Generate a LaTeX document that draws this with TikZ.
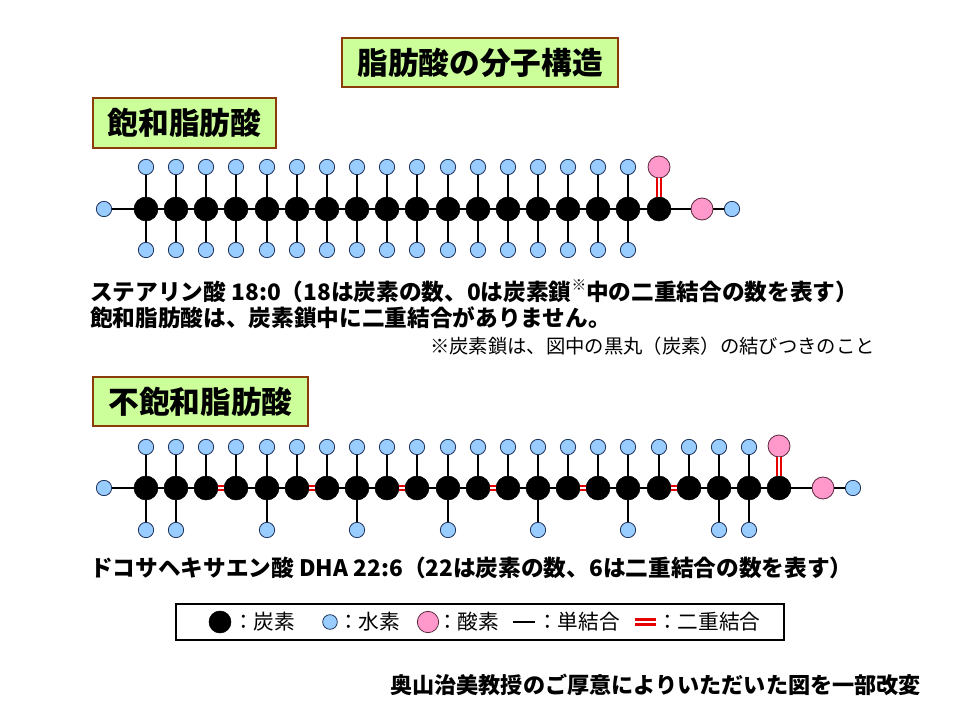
\documentclass[tikz,border=0pt]{standalone}
\usepackage{fontspec}
\setmainfont{Noto Sans CJK JP}
\usepackage{tikz}
\usetikzlibrary{calc}

\definecolor{boxgreen}{RGB}{204,255,153}
\definecolor{boxbrown}{RGB}{140,60,10}
\definecolor{hblue}{RGB}{153,204,255}
\definecolor{hedge}{RGB}{30,50,90}
\definecolor{opink}{RGB}{255,153,204}
\definecolor{oedge}{RGB}{90,40,60}
\definecolor{bondred}{RGB}{230,0,0}

\begin{document}
\begin{tikzpicture}[x=0.75pt,y=-0.75pt,
	carbon/.style={circle,fill=black,draw=black,inner sep=0pt,minimum size=18pt},
	hyd/.style={circle,fill=hblue,draw=hedge,line width=0.6pt,inner sep=0pt,minimum size=11.5pt},
	oxy/.style={circle,fill=opink,draw=oedge,line width=0.6pt,inner sep=0pt,minimum size=16.5pt},
	bond/.style={line width=1.9pt},
	dbond/.style={draw=bondred,double=white,line width=1.3pt,double distance=2pt},
	titlebox/.style={fill=boxgreen,draw=boxbrown,line width=1.6pt,inner sep=0pt,font=\fontsize{23}{23}\selectfont\bfseries},
	txt/.style={anchor=west,inner sep=0pt,font=\fontsize{17}{17}\selectfont\bfseries},
	leg/.style={anchor=west,inner sep=0pt,font=\fontsize{15.5}{15.5}\selectfont}]
		\useasboundingbox (0,0) rectangle (960,720);

		\node[titlebox,minimum width=207pt,minimum height=36.75pt] (title) at (480,62.5) {脂肪酸の分子構造};
		\node[titlebox,minimum width=137.25pt,minimum height=37.5pt] (satlabel) at (184.5,123) {飽和脂肪酸};
		\node[titlebox,minimum width=161.25pt,minimum height=36.75pt] (unsatlabel) at (200.5,401.5) {不飽和脂肪酸};

		% 飽和脂肪酸
		\node[hyd] (s0) at (104,209) {};
		\node[carbon] (s1) at (146,209) {}; \node[hyd] (s1t) at (146,167) {}; \node[hyd] (s1b) at (146,250) {};
		\node[carbon] (s2) at (176,209) {}; \node[hyd] (s2t) at (176,167) {}; \node[hyd] (s2b) at (176,250) {};
		\node[carbon] (s3) at (206,209) {}; \node[hyd] (s3t) at (206,167) {}; \node[hyd] (s3b) at (206,250) {};
		\node[carbon] (s4) at (236,209) {}; \node[hyd] (s4t) at (236,167) {}; \node[hyd] (s4b) at (236,250) {};
		\node[carbon] (s5) at (267,209) {}; \node[hyd] (s5t) at (267,167) {}; \node[hyd] (s5b) at (267,250) {};
		\node[carbon] (s6) at (297,209) {}; \node[hyd] (s6t) at (297,167) {}; \node[hyd] (s6b) at (297,250) {};
		\node[carbon] (s7) at (327,209) {}; \node[hyd] (s7t) at (327,167) {}; \node[hyd] (s7b) at (327,250) {};
		\node[carbon] (s8) at (357,209) {}; \node[hyd] (s8t) at (357,167) {}; \node[hyd] (s8b) at (357,250) {};
		\node[carbon] (s9) at (387,209) {}; \node[hyd] (s9t) at (387,167) {}; \node[hyd] (s9b) at (387,250) {};
		\node[carbon] (s10) at (417,209) {}; \node[hyd] (s10t) at (417,167) {}; \node[hyd] (s10b) at (417,250) {};
		\node[carbon] (s11) at (448,209) {}; \node[hyd] (s11t) at (448,167) {}; \node[hyd] (s11b) at (448,250) {};
		\node[carbon] (s12) at (478,209) {}; \node[hyd] (s12t) at (478,167) {}; \node[hyd] (s12b) at (478,250) {};
		\node[carbon] (s13) at (508,209) {}; \node[hyd] (s13t) at (508,167) {}; \node[hyd] (s13b) at (508,250) {};
		\node[carbon] (s14) at (538,209) {}; \node[hyd] (s14t) at (538,167) {}; \node[hyd] (s14b) at (538,250) {};
		\node[carbon] (s15) at (568,209) {}; \node[hyd] (s15t) at (568,167) {}; \node[hyd] (s15b) at (568,250) {};
		\node[carbon] (s16) at (598,209) {}; \node[hyd] (s16t) at (598,167) {}; \node[hyd] (s16b) at (598,250) {};
		\node[carbon] (s17) at (628,209) {}; \node[hyd] (s17t) at (628,167) {}; \node[hyd] (s17b) at (628,250) {};
		\node[carbon] (s18) at (659,209) {}; \node[oxy] (so1) at (659,167) {};
		\node[oxy] (so2) at (702,209) {}; \node[hyd] (sh) at (732,209) {};

		\draw[bond] (s0) -- (s1) -- (s2) -- (s3) -- (s4) -- (s5) -- (s6) -- (s7) -- (s8) -- (s9) -- (s10)
			-- (s11) -- (s12) -- (s13) -- (s14) -- (s15) -- (s16) -- (s17) -- (s18) -- (so2) -- (sh);
		\draw[bond] (s1t) -- (s1) -- (s1b) (s2t) -- (s2) -- (s2b) (s3t) -- (s3) -- (s3b) (s4t) -- (s4) -- (s4b)
			(s5t) -- (s5) -- (s5b) (s6t) -- (s6) -- (s6b) (s7t) -- (s7) -- (s7b) (s8t) -- (s8) -- (s8b)
			(s9t) -- (s9) -- (s9b) (s10t) -- (s10) -- (s10b) (s11t) -- (s11) -- (s11b) (s12t) -- (s12) -- (s12b)
			(s13t) -- (s13) -- (s13b) (s14t) -- (s14) -- (s14b) (s15t) -- (s15) -- (s15b) (s16t) -- (s16) -- (s16b)
			(s17t) -- (s17) -- (s17b);
		\draw[dbond] (s18) -- (so1);

		\node[txt] (sattext) at (90,291) {ステアリン酸 18:0（18は炭素の数、0は炭素鎖\raisebox{0.45em}{\fontsize{11}{11}\selectfont\mdseries ※}中の二重結合の数を表す）};
		\node[txt] (satnote) at (90,318) {飽和脂肪酸は、炭素鎖中に二重結合がありません。};
		\node[txt,font=\fontsize{14.5}{14.5}\selectfont] (chainnote) at (430,346) {※炭素鎖は、図中の黒丸（炭素）の結びつきのこと};

		% 不飽和脂肪酸
		\node[hyd] (u0) at (104,488) {};
		\node[carbon] (u1) at (146,488) {}; \node[hyd] (u1t) at (146,447) {}; \node[hyd] (u1b) at (146,530) {};
		\node[carbon] (u2) at (176,488) {}; \node[hyd] (u2t) at (176,447) {}; \node[hyd] (u2b) at (176,530) {};
		\node[carbon] (u3) at (206,488) {}; \node[hyd] (u3t) at (206,447) {};
		\node[carbon] (u4) at (236,488) {}; \node[hyd] (u4t) at (236,447) {};
		\node[carbon] (u5) at (267,488) {}; \node[hyd] (u5t) at (267,447) {}; \node[hyd] (u5b) at (267,530) {};
		\node[carbon] (u6) at (297,488) {}; \node[hyd] (u6t) at (297,447) {};
		\node[carbon] (u7) at (327,488) {}; \node[hyd] (u7t) at (327,447) {};
		\node[carbon] (u8) at (357,488) {}; \node[hyd] (u8t) at (357,447) {}; \node[hyd] (u8b) at (357,530) {};
		\node[carbon] (u9) at (387,488) {}; \node[hyd] (u9t) at (387,447) {};
		\node[carbon] (u10) at (417,488) {}; \node[hyd] (u10t) at (417,447) {};
		\node[carbon] (u11) at (448,488) {}; \node[hyd] (u11t) at (448,447) {}; \node[hyd] (u11b) at (448,530) {};
		\node[carbon] (u12) at (478,488) {}; \node[hyd] (u12t) at (478,447) {};
		\node[carbon] (u13) at (508,488) {}; \node[hyd] (u13t) at (508,447) {};
		\node[carbon] (u14) at (538,488) {}; \node[hyd] (u14t) at (538,447) {}; \node[hyd] (u14b) at (538,530) {};
		\node[carbon] (u15) at (568,488) {}; \node[hyd] (u15t) at (568,447) {};
		\node[carbon] (u16) at (598,488) {}; \node[hyd] (u16t) at (598,447) {};
		\node[carbon] (u17) at (628,488) {}; \node[hyd] (u17t) at (628,447) {}; \node[hyd] (u17b) at (628,530) {};
		\node[carbon] (u18) at (659,488) {}; \node[hyd] (u18t) at (659,447) {};
		\node[carbon] (u19) at (689,488) {}; \node[hyd] (u19t) at (689,447) {};
		\node[carbon] (u20) at (719,488) {}; \node[hyd] (u20t) at (719,447) {}; \node[hyd] (u20b) at (719,530) {};
		\node[carbon] (u21) at (749,488) {}; \node[hyd] (u21t) at (749,447) {}; \node[hyd] (u21b) at (749,530) {};
		\node[carbon] (u22) at (779,488) {}; \node[oxy] (uo1) at (779,446) {};
		\node[oxy] (uo2) at (823,488) {}; \node[hyd] (uh) at (853,488) {};

		\draw[bond] (u0) -- (u1) -- (u2) -- (u3) (u4) -- (u5) -- (u6) (u7) -- (u8) -- (u9) (u10) -- (u11) -- (u12)
			(u13) -- (u14) -- (u15) (u16) -- (u17) -- (u18) (u19) -- (u20) -- (u21) -- (u22) -- (uo2) -- (uh);
		\draw[dbond] (u3) -- (u4) (u6) -- (u7) (u9) -- (u10) (u12) -- (u13) (u15) -- (u16) (u18) -- (u19);
		\draw[bond] (u1t) -- (u1) -- (u1b) (u2t) -- (u2) -- (u2b) (u3t) -- (u3) (u4t) -- (u4) (u5t) -- (u5) -- (u5b)
			(u6t) -- (u6) (u7t) -- (u7) (u8t) -- (u8) -- (u8b) (u9t) -- (u9) (u10t) -- (u10) (u11t) -- (u11) -- (u11b)
			(u12t) -- (u12) (u13t) -- (u13) (u14t) -- (u14) -- (u14b) (u15t) -- (u15) (u16t) -- (u16)
			(u17t) -- (u17) -- (u17b) (u18t) -- (u18) (u19t) -- (u19) (u20t) -- (u20) -- (u20b) (u21t) -- (u21) -- (u21b);
		\draw[dbond] (u22) -- (uo1);

		\node[txt] (dhatext) at (90,568) {ドコサヘキサエン酸 DHA 22:6（22は炭素の数、6は二重結合の数を表す）};

		% 凡例
		\node[draw=black,line width=0.8pt,minimum width=456pt,minimum height=27pt,inner sep=0pt] (legend) at (480,622) {};
		\node[carbon,minimum size=16.5pt] (lc) at (220,622) {};
		\node[leg] (lctext) at (233,622) {：炭素};
		\node[hyd,minimum size=11pt] (lh) at (330,622) {};
		\node[leg] (lhtext) at (338,622) {：水素};
		\node[oxy,minimum size=16pt] (lo) at (428,622) {};
		\node[leg] (lotext) at (437,622) {：酸素};
		\coordinate (ls1) at (513,622);
		\coordinate (ls2) at (535,622);
		\draw[bond,line width=2.2pt] (ls1) -- (ls2);
		\node[leg] (lstext) at (537,622) {：単結合};
		\coordinate (ld1) at (635,622);
		\coordinate (ld2) at (656,622);
		\draw[dbond,line width=2pt] (ld1) -- (ld2);
		\node[leg] (ldtext) at (657,622) {：二重結合};

		\node[txt,font=\fontsize{16.6}{16.6}\selectfont\bfseries] (credit) at (390,685) {奥山治美教授のご厚意によりいただいた図を一部改変};
	\end{tikzpicture}
\end{document}
